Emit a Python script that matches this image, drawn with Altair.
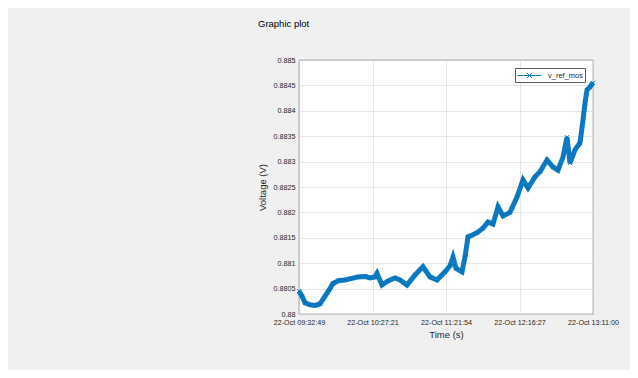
import altair as alt
import pandas as pd

# ---- data (v_ref_mos vs time, 22 Oct) ----
times = [
    "09:32:49", "09:35:03", "09:37:16", "09:40:59", "09:44:41", "09:48:24",
    "09:52:07", "09:55:05", "09:58:03", "10:02:30", "10:06:57", "10:12:09",
    "10:16:36", "10:21:48", "10:25:30", "10:29:13", "10:30:42", "10:34:25",
    "10:38:52", "10:44:04", "10:47:46", "10:52:58", "10:58:54", "11:04:50",
    "11:10:02", "11:15:14", "11:21:10", "11:24:53", "11:27:06", "11:29:20",
    "11:33:47", "11:36:00", "11:38:14", "11:41:12", "11:44:55", "11:49:22",
    "11:53:05", "11:56:47", "12:00:30", "12:04:13", "12:09:24", "12:14:36",
    "12:19:03", "12:22:46", "12:27:57", "12:31:40", "12:36:52", "12:41:19",
    "12:45:01", "12:48:44", "12:51:42", "12:53:56", "12:57:38", "13:01:21",
    "13:03:35", "13:05:04", "13:06:33", "13:08:46", "13:11:00",
]
volts = [
    0.88045, 0.88035, 0.88022, 0.88018, 0.88017, 0.88020,
    0.88035, 0.88047, 0.88060, 0.88066, 0.88067, 0.88070,
    0.88073, 0.88074, 0.88071, 0.88073, 0.88080, 0.88057,
    0.88065, 0.88071, 0.88067, 0.88057, 0.88077, 0.88093,
    0.88073, 0.88067, 0.88083, 0.88095, 0.88112, 0.88090,
    0.88083, 0.88112, 0.88152, 0.88155, 0.88160, 0.88169,
    0.88181, 0.88177, 0.88211, 0.88193, 0.88200, 0.88230,
    0.88264, 0.88248, 0.88270, 0.88280, 0.88303, 0.88289,
    0.88283, 0.88309, 0.88348, 0.88297, 0.88323, 0.88337,
    0.88382, 0.88415, 0.88441, 0.88447, 0.88455,
]
signal_name = "v_ref_mos"
day = "2019-10-22"
axis_start = "09:32:49"
axis_end = "13:11:00"
y_ticks = [0.88, 0.8805, 0.881, 0.8815, 0.882, 0.8825, 0.883, 0.8835, 0.884, 0.8845, 0.885]

def to_ms(s):
    return int(pd.Timestamp(day + " " + s).value // 10**6)

df = pd.DataFrame({
    "ms": [to_ms(t) for t in times],
    "voltage": volts,
    "signal": [signal_name] * len(times),
})
t0, t1 = to_ms(axis_start), to_ms(axis_end)
x_ticks = [t0 + (t1 - t0) * i / 4 for i in range(5)]

BLUE = "#0072BD"
TXT = "#262626"
FONT = "Liberation Sans"

x_enc = alt.X(
    "ms:Q",
    scale=alt.Scale(domain=[t0, t1], nice=False, zero=False),
    axis=alt.Axis(
        values=x_ticks,
        labelExpr="utcFormat(datum.value, '%d-%b %H:%M:%S')",
        title="Time (s)",
        grid=True,
        labelFlush=False,
        labelOverlap=False,
        labelPadding=4,
        titlePadding=4,
    ),
)
y_enc = alt.Y(
    "voltage:Q",
    scale=alt.Scale(domain=[0.88, 0.885], nice=False, zero=False),
    axis=alt.Axis(
        values=y_ticks,
        format=".5~f",
        title="Voltage (V)",
        grid=True,
        labelOverlap=False,
        labelPadding=4,
        titlePadding=6,
    ),
)
color_enc = alt.Color(
    "signal:N",
    scale=alt.Scale(range=[BLUE]),
    legend=alt.Legend(
        title=None,
        orient="top-right",
        offset=8,
        symbolType="M-2,0L2,0M-0.45,-0.45L0.45,0.45M-0.45,0.45L0.45,-0.45",
        symbolSize=144,
        symbolOffset=7,
        symbolStrokeWidth=1,
        symbolStrokeColor=BLUE,
        symbolFillColor="transparent",
        labelFont=FONT,
        labelFontSize=7.5,
        labelColor=TXT,
        labelOffset=12,
        fillColor="white",
        strokeColor="#5a5a5a",
        padding=1,
        rowPadding=0,
    ),
)

line = alt.Chart(df).mark_line(strokeWidth=5, opacity=0.95).encode(
    x=x_enc, y=y_enc, color=color_enc
)
pts = alt.Chart(df).mark_point(
    shape="M-1,-1L1,1M-1,1L1,-1", size=16, strokeWidth=1, filled=False, opacity=1
).encode(x=x_enc, y=y_enc, color=alt.Color("signal:N", legend=None))

chart = (
    alt.layer(line, pts)
    .properties(
        width=294,
        height=254,
        background="#f0f0f0",
        autosize=alt.AutoSizeParams(type="none"),
        padding={"left": 291, "top": 52, "right": 37, "bottom": 56},
        title=alt.TitleParams(
            "Graphic plot",
            anchor="start",
            frame="group",
            dx=-41,
            offset=28,
            font=FONT,
            fontSize=9.5,
            fontWeight="normal",
            color="#000000",
        ),
    )
    .configure_view(fill="white", stroke=TXT, strokeWidth=0.8)
    .configure_axis(
        labelFont=FONT,
        titleFont=FONT,
        labelFontSize=7.2,
        titleFontSize=9.5,
        titleFontWeight="normal",
        labelColor=TXT,
        titleColor=TXT,
        gridColor="#e1e1e1",
        gridWidth=0.8,
        domain=False,
        tickSize=0,
    )
)

chart.save("out.html", embed_options={"renderer": "svg", "actions": False})
